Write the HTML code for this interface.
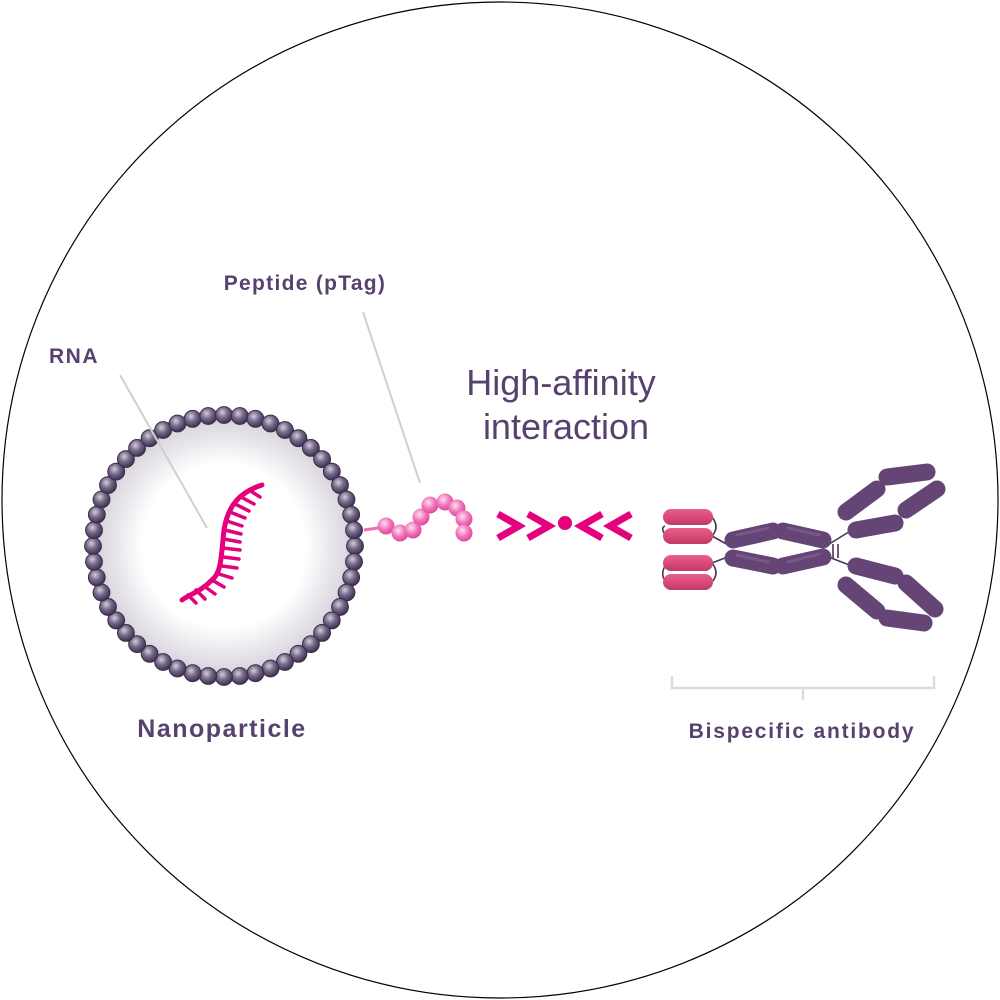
<!DOCTYPE html>
<html><head><meta charset="utf-8"><style>
html,body{margin:0;padding:0;background:#fff;width:1000px;height:1000px;overflow:hidden}
svg{display:block}
text{font-family:"Liberation Sans",sans-serif;fill:#57416f}
</style></head><body>
<svg width="1000" height="1000" viewBox="0 0 1000 1000" xmlns="http://www.w3.org/2000/svg">
<defs>
<radialGradient id="np" cx="50%" cy="50%" r="50%">
<stop offset="0.6" stop-color="#ffffff"/><stop offset="0.9" stop-color="#dcd8e0"/><stop offset="1" stop-color="#b8b2c0"/>
</radialGradient>
<radialGradient id="bead" cx="40%" cy="35%" r="65%">
<stop offset="0" stop-color="#d4cdda"/><stop offset="0.5" stop-color="#756888"/><stop offset="1" stop-color="#3e3250"/>
</radialGradient>
<radialGradient id="pb" cx="40%" cy="35%" r="65%">
<stop offset="0" stop-color="#ffe0f0"/><stop offset="0.6" stop-color="#f070b8"/><stop offset="1" stop-color="#e04a9c"/>
</radialGradient>
<linearGradient id="pill" x1="0" y1="0" x2="0" y2="1">
<stop offset="0" stop-color="#e8608a"/><stop offset="0.5" stop-color="#d94a78"/><stop offset="1" stop-color="#c23a66"/>
</linearGradient>
</defs>
<circle cx="500" cy="500" r="498" fill="#fff" stroke="#000" stroke-width="1.2"/>

<circle cx="224" cy="546" r="136" fill="url(#np)"/>
<g id="beads"></g>
<line x1="120" y1="375" x2="207" y2="528" stroke="#d0d0d0" stroke-width="2"/>
<line x1="363" y1="312" x2="420" y2="483" stroke="#d0d0d0" stroke-width="2"/>
<path d="M262,485 C240,492 228,505 224,530 C221,555 222,572 212,580 C200,592 190,594 182,600" fill="none" stroke="#e5007e" stroke-width="5" stroke-linecap="round"/>
<g stroke="#e5007e" stroke-width="3.5" stroke-linecap="round">
<line x1="249" y1="490" x2="260" y2="497"/>
<line x1="241" y1="497" x2="254" y2="504"/>
<line x1="235" y1="504" x2="249" y2="511"/>
<line x1="230" y1="512" x2="245" y2="518"/>
<line x1="227" y1="521" x2="242" y2="526"/>
<line x1="225" y1="530" x2="241" y2="534"/>
<line x1="224" y1="539" x2="240" y2="542"/>
<line x1="223" y1="548" x2="240" y2="550"/>
<line x1="223" y1="557" x2="239" y2="559"/>
<line x1="222" y1="566" x2="237" y2="568"/>
<line x1="219" y1="574" x2="232" y2="578"/>
<line x1="212" y1="580" x2="224" y2="587"/>
<line x1="204" y1="586" x2="215" y2="594"/>
<line x1="196" y1="590" x2="205" y2="599"/>
<line x1="188" y1="595" x2="196" y2="603"/>
</g>

<line x1="364" y1="530" x2="385" y2="527" stroke="#ee6fb5" stroke-width="3"/>
<g fill="url(#pb)">
<circle cx="386" cy="526" r="8.5"/>
<circle cx="400" cy="533" r="8.5"/>
<circle cx="413" cy="530" r="8.5"/>
<circle cx="421" cy="517" r="8.5"/>
<circle cx="430" cy="505" r="8.5"/>
<circle cx="445" cy="502" r="8.5"/>
<circle cx="457" cy="508" r="8.5"/>
<circle cx="464" cy="519" r="8.5"/>
<circle cx="464" cy="533" r="8.5"/>
</g>

<g fill="none" stroke="#e5007e" stroke-width="7" stroke-linejoin="miter">
<polyline points="498,514 519,526 498,538"/>
<polyline points="528,514 549,526 528,538"/>
<polyline points="602,514 581,526 602,538"/>
<polyline points="631,514 610,526 631,538"/>
</g>
<circle cx="565" cy="523" r="7" fill="#e5007e"/>

<g stroke="#4a3458" stroke-width="1.6" fill="none">
<path d="M712,517 Q720,527 712,536"/><path d="M665,526 Q660,528 666,536"/>
<path d="M712,563 Q720,573 712,582"/><path d="M665,566 Q660,575 666,582"/>
<line x1="712" y1="536" x2="730" y2="546"/><line x1="712" y1="563" x2="730" y2="556"/>
<line x1="826" y1="546" x2="852" y2="530"/><line x1="826" y1="556" x2="852" y2="566"/>
<line x1="833" y1="544" x2="833" y2="558"/><line x1="838" y1="544" x2="838" y2="558"/>
</g>
<g fill="url(#pill)">
<rect x="663" y="509" width="50" height="16" rx="8"/>
<rect x="663" y="528" width="50" height="16" rx="8"/>
<rect x="663" y="555" width="50" height="16" rx="8"/>
<rect x="663" y="574" width="50" height="16" rx="8"/>
</g>
<g stroke="#654575" stroke-width="17" stroke-linecap="round">
<line x1="733" y1="540" x2="773" y2="531"/>
<line x1="783" y1="531" x2="823" y2="540"/>
<line x1="733" y1="558" x2="773" y2="566"/>
<line x1="783" y1="566" x2="823" y2="557"/>
<line x1="856" y1="530" x2="895" y2="523"/>
<line x1="846" y1="512" x2="877" y2="489"/>
<line x1="887" y1="477" x2="927" y2="472"/>
<line x1="906" y1="510" x2="937" y2="489"/>
<line x1="856" y1="566" x2="895" y2="576"/>
<line x1="846" y1="585" x2="877" y2="611"/>
<line x1="887" y1="618" x2="924" y2="623"/>
<line x1="906" y1="583" x2="935" y2="609"/>
</g>
<g stroke="#8a6a9a" stroke-width="3" stroke-linecap="round" opacity="0.5">
<line x1="737" y1="535" x2="768" y2="528"/>
<line x1="788" y1="528" x2="819" y2="535"/>
<line x1="737" y1="555" x2="768" y2="562"/>
<line x1="788" y1="562" x2="819" y2="554"/>
</g>

<path d="M672,676 V688 H934 V676 M803,688 V700" fill="none" stroke="#dcdcdc" stroke-width="2.5"/>

<text x="305" y="290" font-size="21" font-weight="bold" text-anchor="middle" letter-spacing="1.3">Peptide (pTag)</text>
<text x="74" y="363" font-size="21" font-weight="bold" text-anchor="middle" letter-spacing="1.5">RNA</text>
<text x="561" y="395" font-size="36" text-anchor="middle">High-affinity</text>
<text x="566" y="439" font-size="36" text-anchor="middle">interaction</text>
<text x="222" y="737" font-size="25" font-weight="bold" text-anchor="middle" letter-spacing="1.5">Nanoparticle</text>
<text x="802" y="738" font-size="21" font-weight="bold" text-anchor="middle" letter-spacing="1.8">Bispecific antibody</text>
</svg>
<script>
(function(){
var ns="http://www.w3.org/2000/svg";
var g=document.getElementById("beads");
var n=52,cx=224,cy=546,r=131;
for(var i=0;i<n;i++){var a=i/n*2*Math.PI;var c=document.createElementNS(ns,"circle");
c.setAttribute("cx",(cx+r*Math.cos(a)).toFixed(1));c.setAttribute("cy",(cy+r*Math.sin(a)).toFixed(1));
c.setAttribute("r","8.4");c.setAttribute("fill","url(#bead)");c.setAttribute("stroke","#3a2d4a");c.setAttribute("stroke-width","1");g.appendChild(c);}
})();
</script>
</body></html>
